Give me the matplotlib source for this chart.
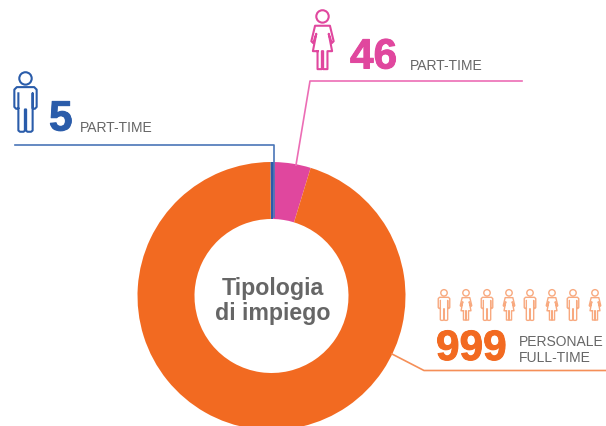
#!/usr/bin/env python
import matplotlib
matplotlib.use('Agg')
import matplotlib.pyplot as plt
import matplotlib.patheffects as pe
from matplotlib.patches import Circle

W, H = 606, 427

# clockwise from 12 o'clock
values = [5, 46, 999]
colors = ['#2a5caa', '#e0479e', '#f26a21']

BLUE, PINK, ORANGE = colors
GREY = '#666666'
FONT = 'Liberation Sans'

# eight small figures above the 999, alternating man / woman
small_x = [444, 466, 487, 509, 530, 552, 573, 595]

# person outlines, unit box: x around centre, y 0 top .. 1 bottom
MAN = [(-.115, .6), (-.15, .61), (-.18, .58), (-.18, .3), (-.14, .26), (.14, .26),
       (.18, .3), (.18, .58), (.15, .61), (.115, .6), (.115, .36), (.115, .96),
       (.09, .98), (.03, .98), (.01, .96), (.01, .62), (-.01, .62), (-.01, .96),
       (-.03, .98), (-.09, .98), (-.115, .96), (-.115, .36)]
WOMAN = [(-.08, .68), (-.08, .97), (-.01, .97), (-.01, .68), (.01, .68), (.01, .97),
         (.08, .97), (.08, .68), (.155, .68), (.1, .4), (.15, .55), (.18, .52),
         (.12, .27), (-.12, .27), (-.18, .52), (-.15, .55), (-.1, .4), (-.155, .68),
         (-.08, .68)]


def Y(py):
    return H - py


def person(ax, cx, top, h, color, lw, shape):
    # head then body, all in pixel coordinates
    ax.add_patch(Circle((cx, Y(top + .12 * h)), .1 * h, fill=False, ec=color, lw=lw))
    xs = [cx + px * h for px, py in shape]
    ys = [Y(top + py * h) for px, py in shape]
    ax.plot(xs, ys, color=color, lw=lw, solid_joinstyle='round')


def number(ax, x, py, s, color):
    # the original digits are heavier than Liberation bold, so thicken them a little
    ax.text(x, Y(py), s, color=color, family=FONT, fontweight='bold', fontsize=30.5,
            path_effects=[pe.withStroke(linewidth=0.7, foreground=color)])


fig = plt.figure(figsize=(W / 100, H / 100), dpi=100)
ax = fig.add_axes([0, 0, 1, 1])
ax.set_xlim(0, W)
ax.set_ylim(0, H)
ax.axis('off')

cx, cy, r = 271.5, Y(297), 134
ax.pie(values, colors=colors, center=(cx, cy), radius=r, startangle=90.5, counterclock=False,
       wedgeprops=dict(width=r - 77, linewidth=0), frame=False)
ax.set_xlim(0, W)
ax.set_ylim(0, H)
ax.set_aspect('auto')

# leader lines
ax.plot([15, 273.5, 273.5], [Y(146), Y(146), Y(218)], color='#4a76b8', lw=1.2)
ax.plot([522, 310, 296], [Y(82), Y(82), Y(166)], color='#ec6db5', lw=1.2)
ax.plot([606, 424, 392], [Y(371.5), Y(371.5), Y(355)], color='#f58f58', lw=1.2)

# centre label
ax.text(272.5, Y(301), 'Tipologia\ndi impiego', ha='center', va='center', color=GREY,
        family=FONT, fontweight='bold', fontsize=16.7, linespacing=1.14)

# part-time men
person(ax, 25.5, 72, 62, BLUE, 1.5, MAN)
number(ax, 49, 131.5, '5', BLUE)
ax.text(80, Y(132.5), 'PART-TIME', color=GREY, family=FONT, fontsize=10)

# part-time women
person(ax, 322.5, 10, 62, PINK, 1.5, WOMAN)
number(ax, 350, 69.5, '46', PINK)
ax.text(410, Y(69.5), 'PART-TIME', color=GREY, family=FONT, fontsize=10)

# full-time
for i, x in enumerate(small_x):
    person(ax, x, 290, 32, '#f8a97f', 1.0, MAN if i % 2 == 0 else WOMAN)
number(ax, 436, 361, '999', ORANGE)
ax.text(519, Y(346), 'PERSONALE', color=GREY, family=FONT, fontsize=10)
ax.text(519, Y(362), 'FULL-TIME', color=GREY, family=FONT, fontsize=10)

fig.savefig('out.png', dpi=100)
